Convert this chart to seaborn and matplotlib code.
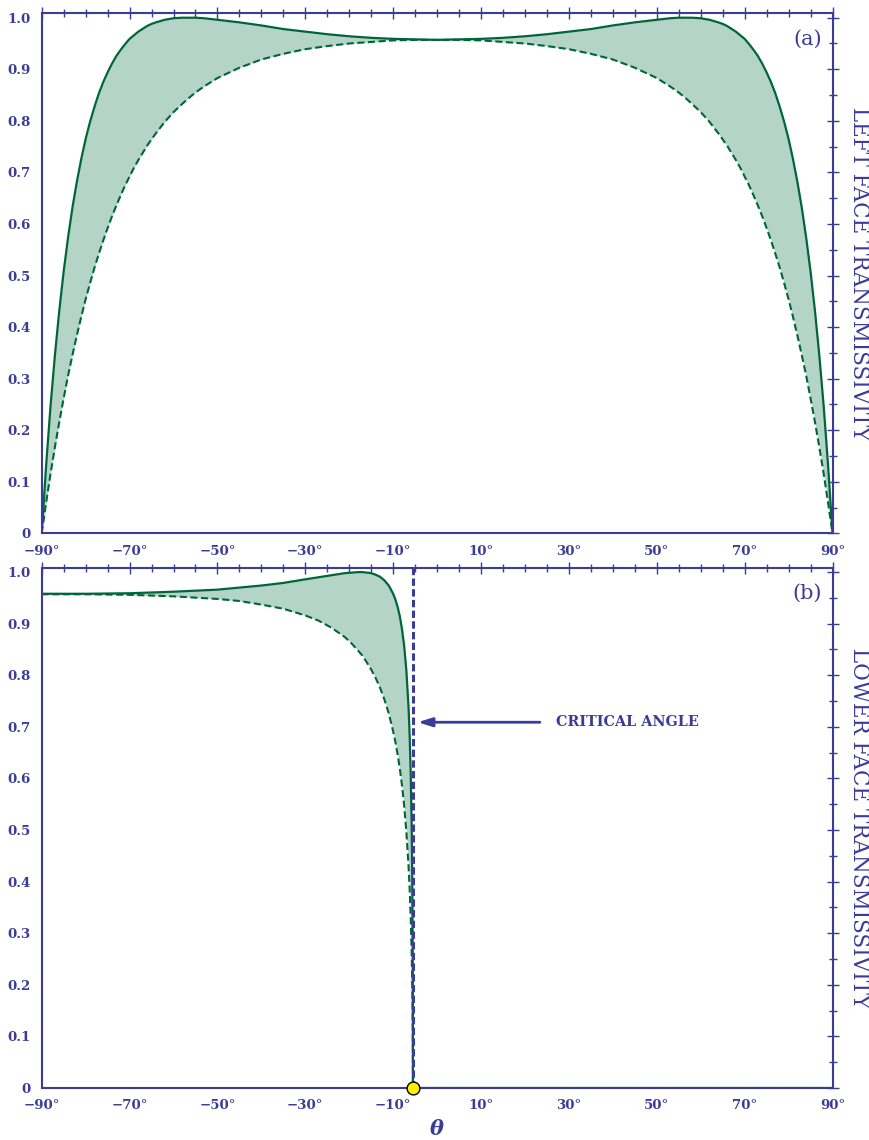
import matplotlib
matplotlib.use("Agg")
import matplotlib.pyplot as plt
import pandas as pd
import seaborn as sns
from matplotlib.ticker import FixedLocator, MultipleLocator

# ---- (a) left face: transmissivity vs angle of incidence -------------------
theta_left = [-90, -89, -88, -87, -86, -85, -84, -83, -82, -81, -80, -79, -78, -77,
              -76, -75, -74, -73, -72, -71, -70, -69, -68, -66, -65, -64, -62, -60,
              -58, -56.7, -55, -53, -50, -45, -40, -35, -30, -25, -20, -15, -10, -5,
              0,
              5, 10, 15, 20, 25, 30, 35, 40, 45, 50, 53, 55, 56.7, 58, 60, 62, 64,
              65, 66, 68, 69, 70, 71, 72, 73, 74, 75, 76, 77, 78, 79, 80, 81, 82,
              83, 84, 85, 86, 87, 88, 89, 90]
tp_left = [0.000, 0.131, 0.246, 0.345, 0.432, 0.508, 0.574, 0.632, 0.682, 0.726,
           0.765, 0.798, 0.827, 0.853, 0.875, 0.894, 0.911, 0.926, 0.938, 0.949,
           0.959, 0.966, 0.973, 0.984, 0.988, 0.991, 0.996, 0.999, 1.000, 1.000,
           1.000, 0.999, 0.996, 0.991, 0.985, 0.978, 0.973, 0.968, 0.964, 0.961,
           0.959, 0.958,
           0.957,
           0.958, 0.959, 0.961, 0.964, 0.968, 0.973, 0.978, 0.985, 0.991, 0.996,
           0.999, 1.000, 1.000, 1.000, 0.999, 0.996, 0.991, 0.988, 0.984, 0.973,
           0.966, 0.959, 0.949, 0.938, 0.926, 0.911, 0.894, 0.875, 0.853, 0.827,
           0.798, 0.765, 0.726, 0.682, 0.632, 0.574, 0.508, 0.432, 0.345, 0.246,
           0.131, 0.000]
ts_left = [0.000, 0.059, 0.115, 0.167, 0.216, 0.262, 0.306, 0.346, 0.384, 0.420,
           0.454, 0.485, 0.515, 0.542, 0.568, 0.592, 0.615, 0.636, 0.656, 0.675,
           0.692, 0.709, 0.724, 0.752, 0.764, 0.776, 0.798, 0.817, 0.833, 0.843,
           0.855, 0.867, 0.883, 0.903, 0.919, 0.930, 0.939, 0.945, 0.950, 0.953,
           0.956, 0.957,
           0.957,
           0.957, 0.956, 0.953, 0.950, 0.945, 0.939, 0.930, 0.919, 0.903, 0.883,
           0.867, 0.855, 0.843, 0.833, 0.817, 0.798, 0.776, 0.764, 0.752, 0.724,
           0.709, 0.692, 0.675, 0.656, 0.636, 0.615, 0.592, 0.568, 0.542, 0.515,
           0.485, 0.454, 0.420, 0.384, 0.346, 0.306, 0.262, 0.216, 0.167, 0.115,
           0.059, 0.000]

# ---- (b) lower face: transmissivity vs angle of incidence on left face -----
theta_lower = [-90, -80, -70, -60, -50, -45, -40, -35, -30, -27, -24, -21, -19.5,
               -18, -17, -16, -15, -14, -13, -12, -11, -10, -9.5, -9, -8.5, -8,
               -7.5, -7, -6.5, -6.25, -6, -5.8, -5.7, -5.65, -5.6, -5.55, -5.52,
               -5.5, 90]
tp_lower = [0.958, 0.958, 0.959, 0.962, 0.966, 0.970, 0.974, 0.979, 0.986, 0.990,
            0.994, 0.998, 0.999, 1.000, 1.000, 0.999, 0.998, 0.995, 0.991, 0.984,
            0.974, 0.958, 0.947, 0.933, 0.915, 0.890, 0.857, 0.810, 0.738, 0.684,
            0.607, 0.512, 0.442, 0.396, 0.335, 0.248, 0.149, 0.000, 0.000]
ts_lower = [0.957, 0.957, 0.956, 0.953, 0.948, 0.944, 0.937, 0.929, 0.916, 0.906,
            0.892, 0.874, 0.862, 0.848, 0.838, 0.825, 0.811, 0.795, 0.776, 0.753,
            0.726, 0.691, 0.671, 0.647, 0.620, 0.587, 0.547, 0.497, 0.430, 0.386,
            0.328, 0.265, 0.222, 0.195, 0.161, 0.116, 0.068, 0.000, 0.000]
critical_angle = -5.5
critical_label = "CRITICAL ANGLE"
critical_label_y = 0.709

# ---- axes labels and ticks --------------------------------------------------
x_ticks = [-90, -70, -50, -30, -10, 10, 30, 50, 70, 90]
x_tick_labels = ["\u221290\u00b0", "\u221270\u00b0", "\u221250\u00b0", "\u221230\u00b0",
                 "\u221210\u00b0", "10\u00b0", "30\u00b0", "50\u00b0", "70\u00b0", "90\u00b0"]
y_ticks = [0, 0.1, 0.2, 0.3, 0.4, 0.5, 0.6, 0.7, 0.8, 0.9, 1.0]
y_tick_labels = ["0", "0.1", "0.2", "0.3", "0.4", "0.5", "0.6", "0.7", "0.8", "0.9", "1.0"]
panel_titles = ["LEFT FACE TRANSMISSIVITY", "LOWER FACE TRANSMISSIVITY"]
panel_tags = ["(a)", "(b)"]
x_label = "\u03b8"

BLUE = "#3b3b98"
GREEN = "#00663a"
FILL = "#b3d4c7"

sns.set_theme(style="white")
plt.rcParams["font.family"] = ["DejaVu Serif"]

fig = plt.figure(figsize=(8.69, 11.40), dpi=100)
ax_a = fig.add_axes([0.048, 0.5322, 0.910, 0.4561])
ax_b = fig.add_axes([0.048, 0.0456, 0.910, 0.4564])

df_a = pd.DataFrame({"theta": theta_left, "tp": tp_left, "ts": ts_left})
df_b = pd.DataFrame({"theta": theta_lower, "tp": tp_lower, "ts": ts_lower})


def draw_panel(ax, df, title, tag):
    ax.fill_between(df["theta"], df["ts"], df["tp"], color=FILL, lw=0, zorder=1)
    sns.lineplot(data=df, x="theta", y="tp", ax=ax, color=GREEN, lw=1.6,
                 sort=False, estimator=None, zorder=2)
    sns.lineplot(data=df, x="theta", y="ts", ax=ax, color=GREEN, lw=1.5,
                 linestyle=(0, (3.4, 1.7)), sort=False, estimator=None, zorder=2)

    ax.set_xlim(-90, 90)
    ax.set_ylim(0, 1.0085)
    ax.set_xlabel("")
    ax.set_ylabel("")
    ax.xaxis.set_major_locator(FixedLocator(x_ticks))
    ax.set_xticklabels(x_tick_labels)
    ax.xaxis.set_minor_locator(MultipleLocator(5))
    ax.yaxis.set_major_locator(FixedLocator(y_ticks))
    ax.set_yticklabels(y_tick_labels)
    ax.yaxis.set_minor_locator(MultipleLocator(0.05))

    ax.tick_params(which="both", direction="inout", top=True, right=True,
                   color=BLUE, labelcolor=BLUE, width=1.0)
    ax.tick_params(which="major", length=8.5, labelsize=9.6, pad=4)
    ax.tick_params(which="minor", length=5.5)
    for lab in ax.get_xticklabels() + ax.get_yticklabels():
        lab.set_fontweight("bold")

    for sp in ax.spines.values():
        sp.set_color(BLUE)
        sp.set_linewidth(1.5)
        sp.set_zorder(5)
    ax.set_facecolor("white")

    ax.text(1.033, 0.5, title, transform=ax.transAxes, rotation=270,
            ha="center", va="center", fontsize=15.5, color=BLUE)
    ax.text(0.9865, 0.95, tag, transform=ax.transAxes, ha="right", va="center",
            fontsize=15, color=BLUE)


draw_panel(ax_a, df_a, panel_titles[0], panel_tags[0])
draw_panel(ax_b, df_b, panel_titles[1], panel_tags[1])

# critical angle marker
ax_b.axvline(critical_angle, color=BLUE, lw=2.2, linestyle=(0, (2.4, 1.1)), zorder=3)
ax_b.annotate("", xy=(critical_angle + 1.1, critical_label_y),
              xytext=(critical_angle + 28.9, critical_label_y),
              arrowprops=dict(arrowstyle="-|>,head_length=0.7,head_width=0.22",
                              color=BLUE, lw=2.0, shrinkA=0, shrinkB=0))
ax_b.text(critical_angle + 32.6, critical_label_y, critical_label, ha="left",
          va="center", fontsize=10.4, fontweight="bold", color=BLUE)
sns.scatterplot(x=[critical_angle], y=[0], ax=ax_b, s=85, color="#ffee00",
                edgecolor="black", linewidth=1.0, zorder=7, clip_on=False)

fig.text(0.5025, 0.0095, x_label, ha="center", va="center", fontsize=15,
         fontweight="bold", fontstyle="italic", color=BLUE)

fig.savefig("out.png", dpi=100)
